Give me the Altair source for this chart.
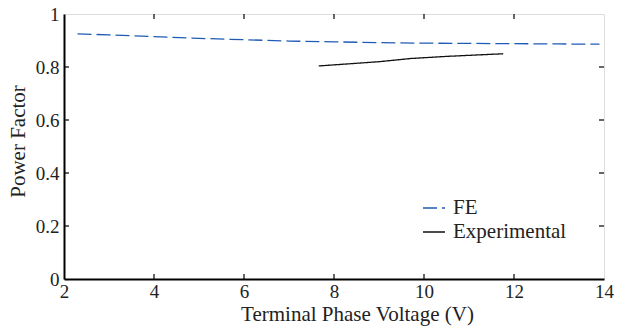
import altair as alt
import pandas as pd

# FE simulation
fe_v = [2.3, 3.0, 4.0, 5.0, 6.0, 7.0, 8.0, 9.0, 10.0, 11.0, 12.0, 13.0, 13.9]
fe_pf = [0.925, 0.921, 0.915, 0.908, 0.903, 0.898, 0.895, 0.892, 0.890, 0.889, 0.888, 0.887, 0.886]
# Experimental
ex_v = [7.66, 8.0, 9.0, 9.7, 10.5, 11.76]
ex_pf = [0.804, 0.808, 0.820, 0.832, 0.840, 0.850]

series_names = ["FE", "Experimental"]
x_ticks = [2, 4, 6, 8, 10, 12, 14]
y_ticks = [0, 0.2, 0.4, 0.6, 0.8, 1]
x_inner = [4, 6, 8, 10, 12]
y_inner = [0.2, 0.4, 0.6, 0.8]

W, H = 540, 265
FONT = "Liberation Serif"

df = pd.DataFrame(
    {"v": fe_v + ex_v,
     "pf": fe_pf + ex_pf,
     "series": ["FE"] * len(fe_v) + ["Experimental"] * len(ex_v)}
)

xscale = alt.Scale(domain=[2, 14], nice=False, zero=False)
yscale = alt.Scale(domain=[0, 1], nice=False)

lines = alt.Chart(df).mark_line(strokeWidth=1.3).encode(
    x=alt.X("v:Q", scale=xscale,
            axis=alt.Axis(values=x_ticks, title="Terminal Phase Voltage (V)", tickSize=0,
                          labelPadding=3, grid=False, domainColor="black", domainWidth=2,
                          labelFontSize=19, titleFontSize=21, labelFont=FONT, titleFont=FONT,
                          labelColor="#222", titleColor="#222", titleFontWeight="normal",
                          titleX=293, titleY=24, titleBaseline="top", labelFlush=False)),
    y=alt.Y("pf:Q", scale=yscale,
            axis=alt.Axis(values=y_ticks, title="Power Factor", tickSize=0, labelPadding=5,
                          grid=False, domainColor="black", domainWidth=2,
                          labelFontSize=19, titleFontSize=21, labelFont=FONT, titleFont=FONT,
                          labelColor="#222", titleColor="#222", titleFontWeight="normal",
                          titleX=-36, titleY=127, labelFlush=False,
                          labelExpr="datum.value == 0 ? '0' : datum.value == 1 ? '1' : format(datum.value, '.1f')")),
    color=alt.Color("series:N",
                    scale=alt.Scale(domain=series_names, range=["#1f5bb5", "#111111"]),
                    legend=alt.Legend(title=None, orient="none", legendX=358, legendY=182,
                                      symbolType="stroke", symbolSize=484, symbolStrokeWidth=1.5,
                                      labelFontSize=21, labelFont=FONT, labelColor="#222",
                                      labelOffset=7, rowPadding=2)),
    strokeDash=alt.StrokeDash("series:N",
                              scale=alt.Scale(domain=series_names, range=[[14, 5], [1, 0]]),
                              legend=None),
)

tick_df_x = pd.DataFrame({"t": x_inner})
tick_df_y = pd.DataFrame({"t": y_inner})

tk = dict(color="black", strokeWidth=1.2)
bottom_ticks = alt.Chart(tick_df_x).mark_rule(**tk).encode(
    x=alt.X("t:Q", scale=xscale), y=alt.value(H), y2=alt.value(H - 5))
top_ticks = alt.Chart(tick_df_x).mark_rule(**tk).encode(
    x=alt.X("t:Q", scale=xscale), y=alt.value(0), y2=alt.value(5))
left_ticks = alt.Chart(tick_df_y).mark_rule(**tk).encode(
    y=alt.Y("t:Q", scale=yscale), x=alt.value(0), x2=alt.value(5))
right_ticks = alt.Chart(tick_df_y).mark_rule(**tk).encode(
    y=alt.Y("t:Q", scale=yscale), x=alt.value(W), x2=alt.value(W - 5))

chart = alt.layer(lines, bottom_ticks, top_ticks, left_ticks, right_ticks).properties(
    width=W, height=H,
    autosize=alt.AutoSizeParams(type="none"),
    padding={"left": 64, "top": 14, "right": 19, "bottom": 50},
).configure_view(stroke="black", strokeWidth=1.4).configure(background="white")

chart.save("out.html", embed_options={"renderer": "svg", "actions": False})
